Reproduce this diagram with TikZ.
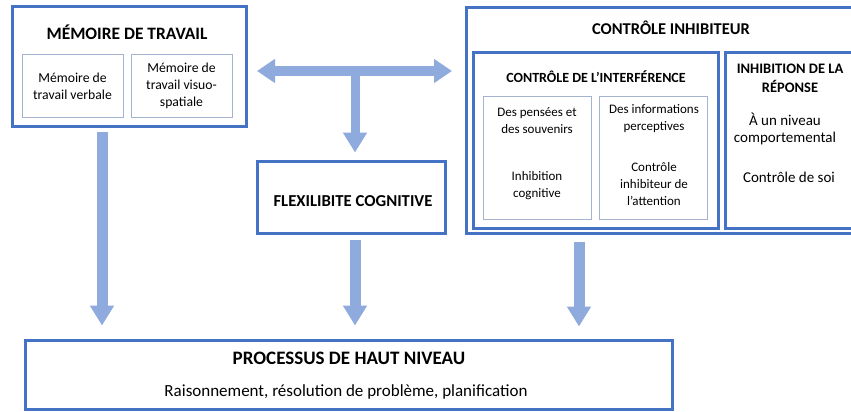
\documentclass[tikz,border=0pt]{standalone}
\usepackage{fontspec}
\setmainfont{Carlito}
\usetikzlibrary{positioning,arrows.meta}
\definecolor{boxblue}{HTML}{4472C4}
\definecolor{arrowblue}{HTML}{8FAADC}
\definecolor{thinblue}{HTML}{A4B3CF}
\tikzstyle{b} = [rectangle, draw=boxblue, line width=3pt, inner sep=0pt]
\tikzstyle{s} = [rectangle, draw=thinblue, line width=1pt, inner sep=0pt]

\begin{document}
\begin{tikzpicture}[x=1pt,y=-1pt]
\tikzstyle{tt} = [font=\fontsize{17}{20}\selectfont\bfseries, align=center, inner sep=0pt]
\tikzstyle{tx} = [font=\fontsize{13}{17}\selectfont, align=center, inner sep=0pt]
\tikzstyle{flow} = [arrowblue, line width=11pt, -{Triangle[length=20pt,width=23pt]}]
\useasboundingbox (0,0) rectangle (851,412);
% boxes
\node[b, minimum width=234, minimum height=119] (mdt) at (129,66.5) {};
\node[s, minimum width=101, minimum height=62] (mdtv) at (72.5,86) {};
\node[s, minimum width=101, minimum height=62] (mdts) at (181.5,86) {};
\node[b, minimum width=409, minimum height=225] (ci) at (670.5,120.5) {};
\node[b, minimum width=245, minimum height=175] (cint) at (595.5,140.5) {};
\node[s, minimum width=108, minimum height=123] (pens) at (537,157.5) {};
\node[s, minimum width=108, minimum height=123] (info) at (653,157.5) {};
\node[b, minimum width=150, minimum height=175] (irep) at (800,140.5) {};
\node[b, minimum width=188, minimum height=72] (flex) at (351,197) {};
\node[b, minimum width=647, minimum height=69] (proc) at (348.5,374.5) {};
% texts
\node[tt, font=\fontsize{17.4}{20}\selectfont\bfseries] (mdtt) at (127,32) {MÉMOIRE DE TRAVAIL};
\node[tx, font=\fontsize{13.7}{17}\selectfont] (mdtvt) at (mdtv) {Mémoire de\\travail verbale};
\node[tx, font=\fontsize{13.7}{17}\selectfont] (mdtst) at (mdts) {Mémoire de\\travail visuo-\\spatiale};
\node[tt, font=\fontsize{16.5}{20}\selectfont\bfseries] (cit) at (671,28) {CONTRÔLE INHIBITEUR};
\node[tt, font=\fontsize{14}{17}\selectfont\bfseries] (cintt) at (596,77) {CONTRÔLE DE L’INTERFÉRENCE};
\node[tx] (penst) at (537,121) {Des pensées et\\des souvenirs};
\node[tx] (pensi) at (537,186) {Inhibition\\cognitive};
\node[tx] (infot) at (654,119) {Des informations\\perceptives};
\node[tx] (infoc) at (654,184) {Contrôle\\inhibiteur de\\l’attention};
\node[tt, font=\fontsize{14.5}{19}\selectfont\bfseries] (irept) at (790,78) {INHIBITION DE LA\\RÉPONSE};
\node[tx, font=\fontsize{15}{17}\selectfont] (irepn) at (785,129) {À un niveau\\comportemental};
\node[tx, font=\fontsize{15}{17}\selectfont] (irepc) at (789,177) {Contrôle de soi};
\node[tt, font=\fontsize{16.7}{20}\selectfont\bfseries] (flext) at (353,201) {FLEXILIBITE COGNITIVE};
\node[tt, font=\fontsize{19}{22}\selectfont\bfseries] (proct) at (349,358) {PROCESSUS DE HAUT NIVEAU};
\node[tx, font=\fontsize{17}{20}\selectfont] (procr) at (346,392) {Raisonnement, résolution de problème, planification};
% arrows
\coordinate (hl) at (257,71);
\coordinate (hr) at (452,71);
\coordinate (hm) at (355,71);
\draw[flow, line width=9pt, {Triangle[length=18pt,width=23pt]}-{Triangle[length=18pt,width=23pt]}] (hl) -- (hr);
\draw[flow, line width=9pt, shorten >=7pt] (hm) -- (hm |- flex.north);
\draw[flow, shorten <=4pt, shorten >=13pt] ([xshift=-27pt]mdt.south) -- ([xshift=-27pt]mdt.south |- proc.north);
\draw[flow, shorten <=5pt, shorten >=13pt] ([xshift=4pt]flex.south) -- ([xshift=4pt]flex.south |- proc.north);
\draw[flow, shorten <=7pt, shorten >=12pt] ([xshift=-91.5pt]ci.south) -- ([xshift=-91.5pt]ci.south |- proc.north);
\end{tikzpicture}
\end{document}
